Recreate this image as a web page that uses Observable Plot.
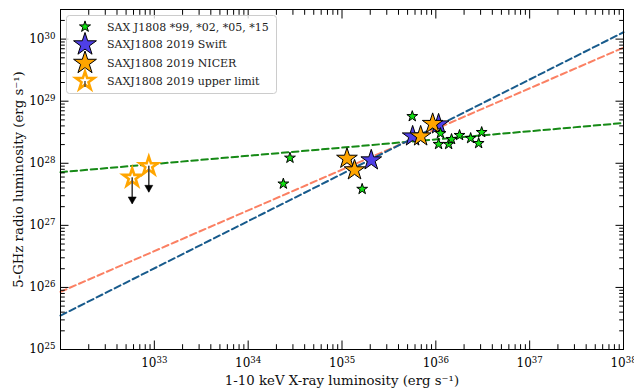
<!DOCTYPE html>
<html><head><meta charset="utf-8">
<script src="https://cdn.jsdelivr.net/npm/d3@7"></script>
<script src="https://cdn.jsdelivr.net/npm/@observablehq/plot@0.6"></script>
<style>
body{margin:0;background:#fff;}
#wrap{position:relative;width:634px;height:390px;overflow:hidden;}
#wrap svg{display:block;}
#legend{position:absolute;left:0;top:0;}
</style></head><body><div id="wrap"></div>
<script>
// ---- data ----
const archiveLx = [2.37e34, 2.79e34, 1.64e35, 5.61e35, 1.12e36, 1.07e36, 1.37e36, 1.47e36, 1.79e36, 2.35e36, 3.08e36, 2.86e36];
const archiveLr = [4.67e27, 1.22e28, 3.84e27, 5.70e28, 3.04e28, 2.03e28, 2.03e28, 2.44e28, 2.83e28, 2.53e28, 3.16e28, 2.10e28];
const swiftLx = [2.05e35, 5.66e35, 1.07e36];
const swiftLr = [1.12e28, 2.72e28, 4.25e28];
const nicerLx = [1.13e35, 1.36e35, 6.89e35, 9.25e35];
const nicerLr = [1.19e28, 7.74e27, 2.72e28, 4.33e28];
const ulLx = [5.81e32, 8.73e32];
const ulLr = [5.83e27, 8.98e27];
const fitLx = [1e32, 1e38];
const fitGreen = [7.19e27, 4.45e28];
const fitSalmon = [8.5e25, 7.3e29];
const fitBlue = [3.52e25, 1.29e30];
const xMajor = [1e33, 1e34, 1e35, 1e36, 1e37, 1e38];
const yMajor = [1e25, 1e26, 1e27, 1e28, 1e29, 1e30];
const legendLabels = ["SAX J1808 *99, *02, *05, *15", "SAXJ1808 2019 Swift", "SAXJ1808 2019 NICER", "SAXJ1808 2019 upper limit"];
const xLabel = "1-10 keV X-ray luminosity (erg s\u207B\u00B9)";
const yLabel = "5-GHz radio luminosity (erg s\u207B\u00B9)";

// ---- derived tables ----
const pts = (xs, ys) => xs.map((x, i) => ({x, y: ys[i]}));
const archive = pts(archiveLx, archiveLr);
const swift = pts(swiftLx, swiftLr);
const nicer = pts(nicerLx, nicerLr);
const ul = pts(ulLx, ulLr);
const minor = (lo, hi, max) => {
  const out = [];
  for (let e = lo; e <= hi; e++) for (let k = 2; k <= 9; k++) { const v = k * 10 ** e; if (v <= max) out.push(v); }
  return out;
};
const xMinor = minor(32, 37, 1e38);
const yMinor = minor(25, 30, 3e30);
const ulFactor = 10 ** -0.42;

const C = {
  green: "#11e011", blue: "#4f3fe8", orange: "#ffa500",
  fitGreen: "#168a16", fitSalmon: "#fb8063", fitBlue: "#185b8c"
};
const dash = {strokeWidth: 2, strokeDasharray: "6.5,3.6"};
const MAJ = 8.5, MIN = 4.8;
const blank = () => "";
const pow = d => `10^${Math.round(Math.log10(d))}`;

const plot = Plot.plot({
  width: 634, height: 390,
  marginLeft: 60, marginRight: 11, marginTop: 9, marginBottom: 41,
  style: {fontFamily: "'DejaVu Serif', serif", fontSize: "12px", color: "black", background: "white"},
  x: {type: "log", domain: [1e32, 1e38]},
  y: {type: "log", domain: [1e25, 3e30]},
  marks: [
    Plot.line(pts(fitLx, fitGreen), {x: "x", y: "y", stroke: C.fitGreen, ...dash}),
    Plot.line(pts(fitLx, fitSalmon), {x: "x", y: "y", stroke: C.fitSalmon, ...dash}),
    Plot.line(pts(fitLx, fitBlue), {x: "x", y: "y", stroke: C.fitBlue, ...dash}),
    Plot.dot(swift, {x: "x", y: "y", symbol: "star", r: 6.5, fill: C.blue, stroke: "black", strokeWidth: 1}),
    Plot.dot(nicer, {x: "x", y: "y", symbol: "star", r: 6.5, fill: C.orange, stroke: "black", strokeWidth: 1}),
    Plot.dot(archive, {x: "x", y: "y", symbol: "star", r: 3.4, fill: C.green, stroke: "black", strokeWidth: 1}),
    Plot.dot(ul, {x: "x", y: "y", symbol: "star", r: 5.7, fill: "white", stroke: C.orange, strokeWidth: 2.6}),
    Plot.ruleX(ul, {x: "x", y1: "y", y2: d => d.y * ulFactor, stroke: "#444", strokeWidth: 1.6}),
    Plot.dot(ul, {x: "x", y: d => d.y * ulFactor, symbol: "triangle", rotate: 180, r: 3, dy: -4.6, fill: "black", stroke: "black", strokeWidth: 0.5}),
    // axes: inward ticks on all four sides
    Plot.axisX({anchor: "bottom", ticks: xMajor, tickSize: -MAJ, tickFormat: blank, label: null}),
    Plot.axisX({anchor: "bottom", ticks: xMinor, tickSize: -MIN, tickFormat: blank, label: null}),
    Plot.axisX({anchor: "top", ticks: xMajor, tickSize: -MAJ, tickFormat: blank, label: null}),
    Plot.axisX({anchor: "top", ticks: xMinor, tickSize: -MIN, tickFormat: blank, label: null}),
    Plot.axisY({anchor: "left", ticks: yMajor, tickSize: -MAJ, tickFormat: blank, label: null}),
    Plot.axisY({anchor: "left", ticks: yMinor, tickSize: -MIN, tickFormat: blank, label: null}),
    Plot.axisY({anchor: "right", ticks: yMajor, tickSize: -MAJ, tickFormat: blank, label: null}),
    Plot.axisY({anchor: "right", ticks: yMinor, tickSize: -MIN, tickFormat: blank, label: null}),
    Plot.axisX({anchor: "bottom", ticks: xMajor, tickSize: 0, tickPadding: 9, tickFormat: pow, label: null, fontSize: 12}),
    Plot.axisY({anchor: "left", ticks: yMajor, tickSize: 0, tickPadding: 5, tickFormat: pow, label: null, fontSize: 12}),
    Plot.frame({stroke: "black", strokeWidth: 1}),
    Plot.text([xLabel], {frameAnchor: "bottom", textAnchor: "middle", lineAnchor: "middle", dy: 31, fontSize: 13.3, fill: "#111"}),
    Plot.text([yLabel], {frameAnchor: "left", textAnchor: "middle", lineAnchor: "middle", dx: -42, rotate: -90, fontSize: 13.3, fill: "#111"})
  ]
});

// superscript exponents in tick labels
plot.querySelectorAll("text").forEach(t => {
  const m = /^10\^(\d+)$/.exec(t.textContent);
  if (!m) return;
  t.textContent = "10";
  const ts = document.createElementNS("http://www.w3.org/2000/svg", "tspan");
  ts.setAttribute("dy", "-0.45em");
  ts.setAttribute("font-size", "0.72em");
  ts.textContent = m[1];
  t.appendChild(ts);
});

const wrap = document.getElementById("wrap");
wrap.appendChild(plot);

// legend (inside the axes, upper left)
const lg = d3.select(wrap).append("svg").attr("id", "legend").attr("width", 634).attr("height", 390)
  .style("font-family", "'DejaVu Serif', serif").style("font-size", "11px");
lg.append("rect").attr("x", 66.5).attr("y", 15.5).attr("width", 210).attr("height", 78).attr("rx", 3)
  .attr("fill", "white").attr("fill-opacity", 0.8).attr("stroke", "#cccccc").attr("stroke-width", 1);
const rowsY = [26.7, 44.5, 63, 81];
const star = R => d3.symbol(d3.symbolStar, R * R / 0.8908130915292852)();
const specs = [
  {R: 5.8, fill: C.green, stroke: "black", sw: 1},
  {R: 12, fill: C.blue, stroke: "black", sw: 1},
  {R: 12, fill: C.orange, stroke: "black", sw: 1},
  {R: 9.6, fill: "white", stroke: C.orange, sw: 2.6}
];
legendLabels.forEach((lab, i) => {
  const g = lg.append("g").attr("transform", `translate(85,${rowsY[i]})`);
  g.append("path").attr("d", star(specs[i].R)).attr("fill", specs[i].fill)
    .attr("stroke", specs[i].stroke).attr("stroke-width", specs[i].sw).attr("stroke-linejoin", "miter");
  if (i === 3) g.append("line").attr("x1", 0).attr("x2", 0).attr("y1", 0).attr("y2", 6).attr("stroke", "#444").attr("stroke-width", 1.4);
  lg.append("text").attr("x", 107).attr("y", rowsY[i]).attr("dy", "0.35em").attr("fill", "#222").text(lab);
});
</script></body></html>
